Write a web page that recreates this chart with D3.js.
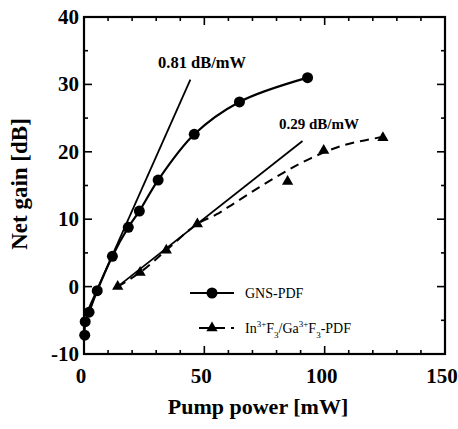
<!DOCTYPE html>
<html>
<head>
<meta charset="utf-8">
<script src="https://cdn.jsdelivr.net/npm/d3@7"></script>
<style>
  html, body { margin: 0; padding: 0; background: #fff; }
  svg { display: block; }
</style>
</head>
<body>
<svg id="chart" width="458" height="429"></svg>
<script>
// ---- data ----
const gnsPower = [0.3, 0.5, 2.1, 5.5, 11.8, 18.4, 23.0, 30.8, 45.8, 64.6, 92.9];
const gnsGain  = [-7.2, -5.2, -3.8, -0.6, 4.5, 8.8, 11.2, 15.8, 22.6, 27.4, 31.0];

const inPower = [14.0, 23.3, 34.2, 47.1, 84.6, 99.6, 124.2];
const inGain  = [0.0, 2.1, 5.4, 9.3, 15.6, 20.2, 22.1];

// dashed trend curve for In/Ga PDF
const inCurvePower = [14.0, 23.3, 34.2, 47.1, 55.0, 63.0, 80.0, 94.0, 108.0, 124.2];
const inCurveGain  = [0.0, 2.1, 5.4, 9.3, 10.7, 12.5, 16.3, 19.0, 21.0, 22.2];

// straight slope lines (endpoints)
const fit081Power = [1.0, 44.2];
const fit081Gain  = [-4.0, 30.7];
const fit029Power = [14.0, 90.8];
const fit029Gain  = [0.0, 21.6];

const xTicks = [0, 50, 100, 150];
const yTicks = [-10, 0, 10, 20, 30, 40];
const xMinorTicks = d3.range(0, 151, 10);
const yMinorTicks = d3.range(-10, 41, 5);

const labels = {
  x: "Pump power [mW]",
  y: "Net gain [dB]",
  slope1: "0.81 dB/mW",
  slope2: "0.29 dB/mW",
  leg1: "GNS-PDF"
};

// ---- layout ----
const svg = d3.select("#chart");
const W = 458, H = 429;
const m = { left: 84, top: 17, right: 13, bottom: 75 };
const pw = W - m.left - m.right, ph = H - m.top - m.bottom;

const x = d3.scaleLinear().domain([0, 150]).range([m.left, m.left + pw]);
const y = d3.scaleLinear().domain([-10, 40]).range([m.top + ph, m.top]);

const serif = "'Liberation Serif', 'DejaVu Serif', serif";
const g = svg.append("g");

// ticks (inward) on all four sides
function tickLen(major) { return major ? 8 : 4; }
xMinorTicks.forEach(v => {
  const L = tickLen(v % 50 === 0);
  g.append("line").attr("x1", x(v)).attr("x2", x(v))
    .attr("y1", y(-10)).attr("y2", y(-10) - L)
    .attr("stroke", "#000").attr("stroke-width", 1.6);
  g.append("line").attr("x1", x(v)).attr("x2", x(v))
    .attr("y1", y(40)).attr("y2", y(40) + L)
    .attr("stroke", "#000").attr("stroke-width", 1.6);
});
yMinorTicks.forEach(v => {
  const L = tickLen(v % 10 === 0);
  g.append("line").attr("x1", x(0)).attr("x2", x(0) + L)
    .attr("y1", y(v)).attr("y2", y(v))
    .attr("stroke", "#000").attr("stroke-width", 1.6);
  g.append("line").attr("x1", x(150)).attr("x2", x(150) - L)
    .attr("y1", y(v)).attr("y2", y(v))
    .attr("stroke", "#000").attr("stroke-width", 1.6);
});

// frame
g.append("rect").attr("x", x(0)).attr("y", y(40))
  .attr("width", x(150) - x(0)).attr("height", y(-10) - y(40))
  .attr("fill", "none").attr("stroke", "#000").attr("stroke-width", 2.2);

// tick labels
g.selectAll(".xl").data(xTicks).enter().append("text")
  .attr("x", d => x(d) - 3).attr("y", y(-10) + 29)
  .attr("text-anchor", "middle")
  .attr("font-family", serif).attr("font-weight", "bold").attr("font-size", 21)
  .text(d => d);
g.selectAll(".yl").data(yTicks).enter().append("text")
  .attr("x", x(0) - 5).attr("y", d => y(d) + 7)
  .attr("text-anchor", "end")
  .attr("font-family", serif).attr("font-weight", "bold").attr("font-size", 21)
  .text(d => d);

// axis titles
g.append("text").attr("x", 258).attr("y", 414)
  .attr("text-anchor", "middle")
  .attr("font-family", serif).attr("font-weight", "bold").attr("font-size", 22)
  .text(labels.x);
g.append("text")
  .attr("transform", `translate(27, ${184}) rotate(-90)`)
  .attr("text-anchor", "middle")
  .attr("font-family", serif).attr("font-weight", "bold").attr("font-size", 23)
  .text(labels.y);

// slope lines
const straight = d3.line().x(d => x(d[0])).y(d => y(d[1]));
g.append("path").datum(d3.zip(fit081Power, fit081Gain))
  .attr("d", straight).attr("fill", "none").attr("stroke", "#000").attr("stroke-width", 1.8);
g.append("path").datum(d3.zip(fit029Power, fit029Gain))
  .attr("d", straight).attr("fill", "none").attr("stroke", "#000").attr("stroke-width", 1.8);

// GNS curve
const smooth = d3.line().x(d => x(d[0])).y(d => y(d[1])).curve(d3.curveCatmullRom.alpha(0.5));
g.append("path").datum(d3.zip(gnsPower, gnsGain))
  .attr("d", smooth).attr("fill", "none").attr("stroke", "#000").attr("stroke-width", 2.2);

// In/Ga dashed curve
g.append("path").datum(d3.zip(inCurvePower, inCurveGain))
  .attr("d", smooth).attr("fill", "none").attr("stroke", "#000").attr("stroke-width", 2)
  .attr("stroke-dasharray", "9,6");

// markers
g.selectAll(".c").data(d3.zip(gnsPower, gnsGain)).enter().append("circle")
  .attr("cx", d => x(d[0])).attr("cy", d => y(d[1])).attr("r", 5.5).attr("fill", "#000");
const tri = d3.symbol().type(d3.symbolTriangle).size(55);
g.selectAll(".t").data(d3.zip(inPower, inGain)).enter().append("path")
  .attr("d", tri).attr("transform", d => `translate(${x(d[0])},${y(d[1])})`).attr("fill", "#000");

// slope annotations
g.append("text").attr("x", 158).attr("y", 68)
  .attr("font-family", serif).attr("font-weight", "bold").attr("font-size", 16.5)
  .text(labels.slope1);
g.append("text").attr("x", 279).attr("y", 129)
  .attr("font-family", serif).attr("font-weight", "bold").attr("font-size", 15)
  .text(labels.slope2);

// legend
const ly1 = 293, ly2 = 328;
g.append("line").attr("x1", 190).attr("x2", 234).attr("y1", ly1).attr("y2", ly1)
  .attr("stroke", "#000").attr("stroke-width", 2);
g.append("circle").attr("cx", 212).attr("cy", ly1).attr("r", 5.5).attr("fill", "#000");
g.append("text").attr("x", 245).attr("y", ly1 + 5)
  .attr("font-family", serif).attr("font-size", 14).text(labels.leg1);

g.append("line").attr("x1", 199).attr("x2", 234).attr("y1", ly2).attr("y2", ly2)
  .attr("stroke", "#000").attr("stroke-width", 2).attr("stroke-dasharray", "10,6");
g.append("path").attr("d", tri).attr("transform", `translate(212,${ly2})`).attr("fill", "#000");
const t2 = g.append("text").attr("x", 245).attr("y", ly2 + 5)
  .attr("font-family", serif).attr("font-size", 14);
t2.append("tspan").text("In");
t2.append("tspan").attr("dy", -6).attr("font-size", 9).text("3+");
t2.append("tspan").attr("dy", 6).text("F");
t2.append("tspan").attr("dy", 5).attr("font-size", 9).text("3");
t2.append("tspan").attr("dy", -5).text("/Ga");
t2.append("tspan").attr("dy", -6).attr("font-size", 9).text("3+");
t2.append("tspan").attr("dy", 6).text("F");
t2.append("tspan").attr("dy", 5).attr("font-size", 9).text("3");
t2.append("tspan").attr("dy", -5).text("-PDF");
</script>
</body>
</html>
